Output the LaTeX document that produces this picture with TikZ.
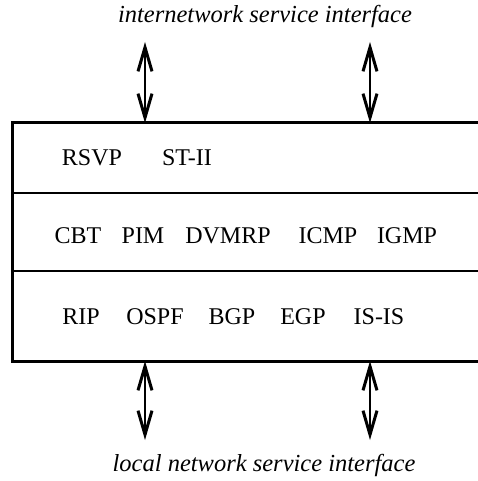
\documentclass[tikz,border=0pt]{standalone}
\usepackage{fontspec}
\setmainfont{Liberation Serif}
\usetikzlibrary{arrows.meta}
\tikzset{
  proto/.style={font=\fontsize{24}{28}\selectfont, inner sep=0pt},
  iface/.style={font=\fontsize{24.5}{28}\selectfont\itshape, inner sep=0pt},
  frame/.style={line width=3pt},
  divider/.style={line width=1.8pt},
  bidir/.style={line width=2.4pt, >={Straight Barb[length=24pt,width=14pt,line width=3pt]}, <->}
}
\begin{document}
\begin{tikzpicture}[x=1pt,y=-1pt]
\useasboundingbox (0,0) rectangle (478,481);
% protocol box, open on the right side
\draw[frame] (478,123) -- (12,123) -- (12,361) -- (478,361);
\draw[divider] (12,193) -- (478,193);
\draw[divider] (12,271) -- (478,271);
% interface labels
\node[iface] (inet) at (265,16) {internetwork service interface};
\node[iface] (lnet) at (264,465) {local network service interface};
% protocols
\node[proto] (rsvp) at (92,158) {RSVP};
\node[proto] (st) at (187,158) {ST-II};
\node[proto] (cbt) at (78,236) {CBT};
\node[proto] (pim) at (143,236) {PIM};
\node[proto] (dvmrp) at (228,236) {DVMRP};
\node[proto] (icmp) at (328,236) {ICMP};
\node[proto] (igmp) at (407,236) {IGMP};
\node[proto] (rip) at (81,317) {RIP};
\node[proto] (ospf) at (155,317) {OSPF};
\node[proto] (bgp) at (232,317) {BGP};
\node[proto] (egp) at (303,317) {EGP};
\node[proto] (isis) at (379,317) {IS-IS};
% interface arrows
\coordinate (ta1) at (145,42);
\coordinate (tb1) at (145,123);
\coordinate (ta2) at (370,42);
\coordinate (tb2) at (370,123);
\coordinate (ba1) at (145,361);
\coordinate (bb1) at (145,440);
\coordinate (ba2) at (370,361);
\coordinate (bb2) at (370,440);
\draw[bidir] (ta1) -- (tb1);
\draw[bidir] (ta2) -- (tb2);
\draw[bidir] (ba1) -- (bb1);
\draw[bidir] (ba2) -- (bb2);
\end{tikzpicture}
\end{document}
